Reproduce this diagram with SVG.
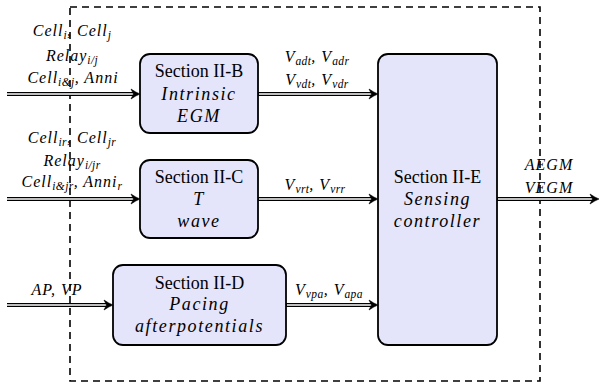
<svg xmlns="http://www.w3.org/2000/svg" xmlns:xlink="http://www.w3.org/1999/xlink" width="600" height="388" viewBox="0 0 600 388">
<style>
.bg{fill:#ffffff}
.frame{fill:none;stroke:#000;stroke-width:1.6;stroke-dasharray:7 5}
.box{fill:#e4e4fa;stroke:#000;stroke-width:1.8}
.t{font-family:'Liberation Serif','Times New Roman',serif;font-size:18px;fill:#000;text-anchor:middle}
.ti{font-family:'Liberation Serif','Times New Roman',serif;font-size:18px;font-style:italic;fill:#000;text-anchor:middle;letter-spacing:1.6px}
.lb{font-family:'Liberation Serif','Times New Roman',serif;font-size:16px;font-style:italic;fill:#000;text-anchor:middle;letter-spacing:1px}
.s{font-size:11.5px;letter-spacing:0.4px}
.lo{fill:none;stroke:#000;stroke-width:4}
.li{fill:none;stroke:#fff;stroke-width:1.5}
.ah{fill:#000;stroke:#000;stroke-width:0.6;stroke-linejoin:round}
</style>
<defs>
<path id="ah" class="ah" d="M-9,-5 Q-4,-1.5 0,0 Q-4,1.5 -9,5 L-6.5,0 Z"/>
</defs>
<rect class="bg" x="0" y="0" width="600" height="388"/>
<rect id="frame" class="frame" x="70" y="7" width="470" height="374"/>

<g id="connectors">
  <g id="in1"><path class="lo" d="M7,94 H135"/><path class="li" d="M7,94 H134"/><use xlink:href="#ah" x="140" y="94"/></g>
  <g id="in2"><path class="lo" d="M7,199 H135"/><path class="li" d="M7,199 H134"/><use xlink:href="#ah" x="140" y="199"/></g>
  <g id="in3"><path class="lo" d="M7,305 H108"/><path class="li" d="M7,305 H107"/><use xlink:href="#ah" x="113" y="305"/></g>
  <g id="b2e"><path class="lo" d="M258,94 H373"/><path class="li" d="M259,94 H372"/><use xlink:href="#ah" x="378" y="94"/></g>
  <g id="c2e"><path class="lo" d="M258,199 H373"/><path class="li" d="M259,199 H372"/><use xlink:href="#ah" x="378" y="199"/></g>
  <g id="d2e"><path class="lo" d="M286,305 H373"/><path class="li" d="M287,305 H372"/><use xlink:href="#ah" x="378" y="305"/></g>
  <g id="out"><path class="lo" d="M497,199 H594"/><path class="li" d="M498,199 H593"/><use xlink:href="#ah" x="599" y="199"/></g>

  <text class="lb" x="72" y="36">Cell<tspan class="s" dy="3">i</tspan><tspan dy="-3">, Cell</tspan><tspan class="s" dy="3">j</tspan></text>
  <text class="lb" x="72" y="61">Relay<tspan class="s" dy="3">i/j</tspan></text>
  <text class="lb" x="73" y="83">Cell<tspan class="s" dy="3">i&amp;j</tspan><tspan dy="-3">, Anni</tspan></text>
  <text class="lb" x="72" y="143">Cell<tspan class="s" dy="3">ir</tspan><tspan dy="-3">, Cell</tspan><tspan class="s" dy="3">jr</tspan></text>
  <text class="lb" x="72" y="166">Relay<tspan class="s" dy="3">i/jr</tspan></text>
  <text class="lb" x="72" y="187">Cell<tspan class="s" dy="3">i&amp;jr</tspan><tspan dy="-3">, Anni</tspan><tspan class="s" dy="3">r</tspan></text>
  <text class="lb" x="57" y="295">AP, VP</text>
  <text class="lb" x="317" y="62">V<tspan class="s" dy="3">adt</tspan><tspan dy="-3">, V</tspan><tspan class="s" dy="3">adr</tspan></text>
  <text class="lb" x="317" y="85">V<tspan class="s" dy="3">vdt</tspan><tspan dy="-3">, V</tspan><tspan class="s" dy="3">vdr</tspan></text>
  <text class="lb" x="315" y="190">V<tspan class="s" dy="3">vrt</tspan><tspan dy="-3">, V</tspan><tspan class="s" dy="3">vrr</tspan></text>
  <text class="lb" x="329" y="295">V<tspan class="s" dy="3">vpa</tspan><tspan dy="-3">, V</tspan><tspan class="s" dy="3">apa</tspan></text>
  <text class="lb" x="549" y="170">AEGM</text>
  <text class="lb" x="549" y="193">VEGM</text>
</g>

<g id="sectionIIB">
  <rect class="box" x="140" y="54" width="118" height="79" rx="10"/>
  <text class="t" x="199" y="77">Section II-B</text>
  <text class="ti" x="199" y="100">Intrinsic</text>
  <text class="ti" x="199" y="122">EGM</text>
</g>
<g id="sectionIIC">
  <rect class="box" x="140" y="160" width="118" height="78" rx="10"/>
  <text class="t" x="199" y="183">Section II-C</text>
  <text class="ti" x="199" y="205">T</text>
  <text class="ti" x="199" y="227">wave</text>
</g>
<g id="sectionIID">
  <rect class="box" x="113" y="265" width="173" height="80" rx="10"/>
  <text class="t" x="199.5" y="289">Section II-D</text>
  <text class="ti" x="199.5" y="310">Pacing</text>
  <text class="ti" x="199.5" y="332">afterpotentials</text>
</g>
<g id="sectionIIE">
  <rect class="box" x="378" y="54" width="119" height="291" rx="10"/>
  <text class="t" x="437.5" y="183">Section II-E</text>
  <text class="ti" x="437.5" y="205">Sensing</text>
  <text class="ti" x="437.5" y="227">controller</text>
</g>
</svg>
